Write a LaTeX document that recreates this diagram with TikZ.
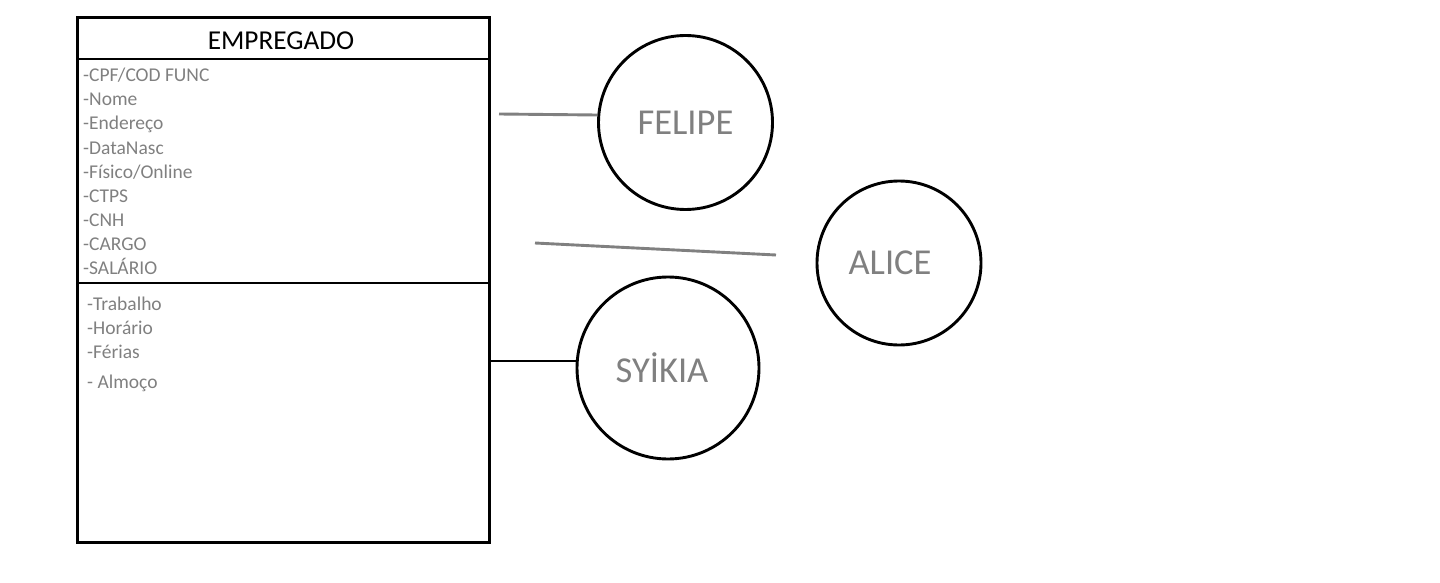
\documentclass[tikz,border=0pt]{standalone}
\usepackage{fontspec}
\setmainfont{Carlito}
\definecolor{txtgray}{RGB}{128,128,128}
\definecolor{linegray}{RGB}{128,128,128}
\begin{document}
\begin{tikzpicture}[x=1pt,y=-1pt,
  boxline/.style={draw=black,line width=2.9pt},
  attr/.style={anchor=base west,inner sep=0pt,text=txtgray,font=\fontsize{19.5}{22}\selectfont},
  title/.style={inner sep=0pt,text=black,font=\fontsize{27.3}{30}\selectfont},
  person/.style={circle,draw=black,line width=2.9pt,inner sep=0pt,text=txtgray,font=\fontsize{36.5}{40}\selectfont},
  conn/.style={line width=2.9pt},
  gconn/.style={draw=linegray,line width=2.9pt}]
\useasboundingbox (0,0) rectangle (1440,583);
% class box
\node[boxline,rectangle,minimum width=412pt,minimum height=525pt,inner sep=0pt,anchor=north west] (emp) at (76,16) {};
\coordinate (d1l) at (76,59); \coordinate (d1r) at (488,59);
\coordinate (d2l) at (76,283); \coordinate (d2r) at (488,283);
\draw[boxline] (d1l) -- (d1r);
\draw[boxline] (d2l) -- (d2r);
\node[title] (ttl) at (281,41) {EMPREGADO};
% attributes
\node[attr] (a1) at (83,82) {-CPF/COD FUNC};
\node[attr] (a2) at (83,106) {-Nome};
\node[attr] (a3) at (83,130) {-Endereço};
\node[attr] (a4) at (83,154) {-DataNasc};
\node[attr] (a5) at (83,178) {-Físico/Online};
\node[attr] (a6) at (83,202) {-CTPS};
\node[attr] (a7) at (83,226) {-CNH};
\node[attr] (a8) at (83,250) {-CARGO};
\node[attr] (a9) at (83,274) {-SALÁRIO};
% methods
\node[attr] (m1) at (87,310) {-Trabalho};
\node[attr] (m2) at (87,334) {-Horário};
\node[attr] (m3) at (87,358) {-Férias};
\node[attr] (m4) at (87,388) {- Almoço};
% persons
\node[person,minimum size=174pt] (felipe) at (685.5,122.5) {FELIPE};
\node[person,minimum size=164pt] (alice) at (899,263) {\hspace*{-18pt}ALICE};
\node[person,minimum size=182pt] (sykia) at (668,368) {\hspace*{-12pt}SYİKIA};
% connectors
\coordinate (f0) at (499,114);
\draw[gconn] (f0) -- (felipe.west |- 0,115);
\coordinate (al0) at (535,243);
\coordinate (al1) at (776,255);
\draw[gconn] (al0) -- (al1);
\draw[conn] (emp.east |- 0,361) -- (sykia.west |- 0,361);
\end{tikzpicture}
\end{document}
